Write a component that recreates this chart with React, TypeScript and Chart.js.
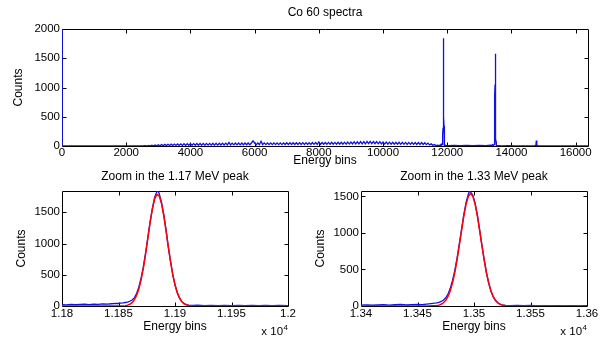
import React, { useEffect, useRef } from 'react';
import { Chart, registerables } from 'chart.js';

Chart.register(...registerables);

const FONT = '"Liberation Sans", Arial, Helvetica, sans-serif';
const BLUE = '#1010e8';
const RED = '#ff0000';

// ---------- full spectrum (blue) ----------
const startBins = [0, 8, 2500];
const startCounts = [2400, 0, 0];

const continuumBins = [
  2600, 2650, 2700, 2750, 2800, 2850, 2900, 2950,
  3000, 3050, 3100, 3150, 3200, 3250, 3300, 3350, 3400, 3450,
  3500, 3550, 3600, 3650, 3700, 3750, 3800, 3850, 3900, 3950,
  4000, 4050, 4100, 4150, 4200, 4250, 4300, 4350, 4400, 4450,
  4500, 4550, 4600, 4650, 4700, 4750, 4800, 4850, 4900, 4950,
  5000, 5050, 5100, 5150, 5200, 5250, 5300, 5350, 5400, 5450,
  5500, 5550, 5600, 5650, 5700, 5750, 5800, 5850, 5900, 5950,
  6000, 6050, 6100, 6150, 6200, 6250, 6300, 6350, 6400, 6450,
  6500, 6550, 6600, 6650, 6700, 6750, 6800, 6850, 6900, 6950,
  7000, 7050, 7100, 7150, 7200, 7250, 7300, 7350, 7400, 7450,
  7500, 7550, 7600, 7650, 7700, 7750, 7800, 7850, 7900, 7950,
  8000, 8050, 8100, 8150, 8200, 8250, 8300, 8350, 8400, 8450,
  8500, 8550, 8600, 8650, 8700, 8750, 8800, 8850, 8900, 8950,
  9000, 9050, 9100, 9150, 9200, 9250, 9300, 9350, 9400, 9450,
  9500, 9550, 9600, 9650, 9700, 9750, 9800, 9850, 9900, 9950,
  10000, 10050, 10100, 10150, 10200, 10250, 10300, 10350, 10400, 10450,
  10500, 10550, 10600, 10650, 10700, 10750, 10800, 10850, 10900, 10950,
  11000, 11050, 11100, 11150, 11200, 11250, 11300, 11350, 11400, 11450,
  11500, 11550, 11600, 11650, 11700, 11750,
];
const continuumCounts = [
  4, 0, 8, 2, 12, 3, 16, 4,
  20, 5, 24, 6, 27, 7, 30, 8, 32, 9,
  34, 10, 35, 10, 37, 11, 38, 11, 39, 12,
  40, 12, 41, 13, 42, 13, 43, 14, 44, 14,
  45, 15, 45, 15, 46, 16, 47, 16, 47, 17,
  48, 18, 49, 18, 60, 19, 49, 19, 50, 20,
  50, 20, 51, 21, 51, 21, 52, 22, 52, 88,
  52, 22, 52, 22, 80, 23, 53, 23, 53, 23,
  53, 24, 53, 24, 54, 24, 54, 24, 54, 25,
  55, 25, 55, 25, 56, 26, 56, 26, 57, 26,
  57, 27, 58, 27, 58, 27, 59, 28, 59, 28,
  70, 28, 60, 29, 60, 29, 61, 30, 62, 30,
  62, 31, 63, 31, 64, 32, 65, 32, 66, 33,
  68, 34, 70, 35, 72, 36, 74, 37, 76, 38,
  78, 40, 78, 40, 77, 39, 75, 38, 72, 36,
  68, 33, 66, 32, 65, 31, 64, 30, 63, 30,
  62, 29, 62, 29, 61, 28, 61, 28, 60, 28,
  60, 27, 59, 27, 58, 26, 56, 24, 50, 20,
  36, 12, 24, 8, 16, 6,
];

const peak1Bins = [
  11800, 11804, 11808, 11812, 11816, 11820, 11824, 11828, 11832, 11836, 11840, 11844, 11848, 11850,
  11852, 11854, 11856, 11858, 11860, 11862, 11864, 11866, 11868, 11870, 11872, 11874, 11876, 11878,
  11880, 11882, 11884, 11885, 11886, 11888, 11890, 11892, 11894, 11896, 11898, 11900, 11902, 11904,
  11906, 11908, 11910, 11912, 11916, 11920, 11926, 11932, 11938, 11944, 11950, 11956, 11962, 11968,
  11974, 11980, 11986, 11992, 12000,
];
const peak1Counts = [
  22, 18, 26, 20, 25, 29, 22, 30, 26, 33, 30, 36, 42, 40,
  46, 50, 56, 62, 76, 95, 130, 200, 300, 450, 630, 850, 1100, 1350,
  1560, 1740, 1830, 1840, 1800, 1660, 1470, 1230, 950, 720, 500, 340, 210, 125,
  70, 38, 22, 14, 9, 12, 6, 10, 5, 9, 6, 11, 5, 8,
  4, 9, 5, 8, 6,
];

const gapBins = [12050, 12200, 12400, 12600, 12800, 13000, 13200, 13350];
const gapCounts = [6, 10, 5, 9, 6, 10, 8, 14];

const peak2Bins = [
  13400, 13405, 13410, 13415, 13420, 13425, 13430, 13435, 13440, 13445, 13450, 13454, 13458, 13462,
  13465, 13467, 13469, 13471, 13473, 13475, 13477, 13479, 13481, 13483, 13485, 13487, 13489, 13491,
  13493, 13495, 13496, 13497, 13499, 13501, 13503, 13505, 13507, 13509, 13511, 13513, 13515, 13517,
  13519, 13521, 13523, 13525, 13528, 13532, 13538, 13544, 13550, 13556, 13562, 13568, 13574, 13580,
  13586, 13592, 13600,
];
const peak2Counts = [
  12, 16, 10, 14, 18, 12, 17, 21, 14, 19, 23, 20, 27, 33,
  38, 43, 50, 62, 82, 112, 162, 242, 350, 485, 655, 850, 1050, 1250,
  1420, 1530, 1575, 1560, 1515, 1405, 1245, 1040, 835, 635, 455, 312, 200, 125,
  75, 44, 25, 15, 9, 5, 8, 4, 7, 3, 6, 3, 5, 2,
  5, 3, 4,
];

const tailBins = [13700, 13900, 14100, 14400, 14700, 14760, 14775, 14790, 14850, 15200, 15600, 16000, 16384];
const tailCounts = [2, 4, 1, 3, 1, 10, 95, 12, 1, 2, 0, 1, 0];

// ---------- gaussian fits (red) ----------
const fit1Bins = [
  11800, 11850, 11856, 11858, 11860, 11862, 11864, 11866, 11868, 11870, 11872, 11874, 11876, 11878,
  11880, 11882, 11884, 11886, 11888, 11890, 11892, 11894, 11896, 11898, 11900, 11902, 11904, 11906,
  11908, 11910, 11912, 11914, 11920, 12000,
];
const fit1Counts = [
  0, 1, 6, 14, 28, 54, 98, 168, 273, 418, 607, 835, 1086, 1337,
  1556, 1714, 1787, 1763, 1645, 1452, 1213, 958, 717, 507, 339, 216, 129, 73,
  39, 20, 10, 4, 1, 0,
];

const fit2Bins = [
  13400, 13460, 13467, 13469, 13471, 13473, 13475, 13477, 13479, 13481, 13483, 13485, 13487, 13489,
  13491, 13493, 13495, 13497, 13499, 13501, 13503, 13505, 13507, 13509, 13511, 13513, 13515, 13517,
  13519, 13521, 13523, 13525, 13527, 13535, 13600,
];
const fit2Counts = [
  0, 1, 6, 12, 24, 44, 78, 130, 208, 317, 459, 633, 831, 1037,
  1233, 1395, 1502, 1540, 1502, 1395, 1233, 1037, 831, 633, 459, 317, 208, 130,
  78, 44, 24, 12, 6, 1, 0,
];

// ---------- axes ----------
const topXTicks = [0, 2000, 4000, 6000, 8000, 10000, 12000, 14000, 16000];
const topXLabels = ['0', '2000', '4000', '6000', '8000', '10000', '12000', '14000', '16000'];
const topYTicks = [0, 500, 1000, 1500, 2000];
const topYLabels = ['0', '500', '1000', '1500', '2000'];
const topXMax = 16384;
const topYMax = 2000;

const zoom1XTicks = [11800, 11850, 11900, 11950, 12000];
const zoom1XLabels = ['1.18', '1.185', '1.19', '1.195', '1.2'];
const zoom1YMax = 1840;
const zoom2XTicks = [13400, 13450, 13500, 13550, 13600];
const zoom2XLabels = ['1.34', '1.345', '1.35', '1.355', '1.36'];
const zoom2YMax = 1575;
const zoomYTicks = [0, 500, 1000, 1500];
const zoomYLabels = ['0', '500', '1000', '1500'];

const titles = ['Co 60 spectra', 'Zoom in the 1.17 MeV peak', 'Zoom in the 1.33 MeV peak'];

function pts(xs: number[], ys: number[]) {
  return xs.map((x, i) => ({ x, y: ys[i] }));
}

type Spec = {
  width: number;
  height: number;
  padTop: number;
  padRight: number;
  yAxisW: number;
  xAxisH: number;
  xTickPad: number;
  xTitlePadBottom: number;
  yTitlePad: number;
  xMin: number;
  xMax: number;
  yMax: number;
  xTicks: number[];
  xLabels: string[];
  yTicks: number[];
  yLabels: string[];
  title: string;
  titleY: number;
  exponent: boolean;
  exponentY: number;
  datasets: { data: { x: number; y: number }[]; color: string; width: number }[];
};

function makePlugin(s: Spec) {
  return {
    id: 'matlabFrame',
    beforeDatasetsDraw(chart: any) {
      const { ctx, chartArea, scales } = chart;
      const L = Math.round(chartArea.left) + 0.5;
      const R = Math.round(chartArea.right) + 0.5;
      const T = Math.round(chartArea.top) + 0.5;
      const B = Math.round(chartArea.bottom) + 0.5;
      ctx.save();
      ctx.strokeStyle = '#000';
      ctx.lineWidth = 1;
      ctx.beginPath();
      ctx.moveTo(L, T);
      ctx.lineTo(R, T);
      ctx.lineTo(R, B);
      ctx.lineTo(L, B);
      ctx.closePath();
      const tl = 4;
      scales.x.ticks.forEach((t: any) => {
        const px = Math.round(scales.x.getPixelForValue(t.value)) + 0.5;
        if (px <= L + 1 || px >= R - 1) return;
        ctx.moveTo(px, B);
        ctx.lineTo(px, B - tl);
        ctx.moveTo(px, T);
        ctx.lineTo(px, T + tl);
      });
      scales.y.ticks.forEach((t: any) => {
        const py = Math.round(scales.y.getPixelForValue(t.value)) + 0.5;
        if (py <= T + 1 || py >= B - 1) return;
        ctx.moveTo(L, py);
        ctx.lineTo(L + tl, py);
        ctx.moveTo(R, py);
        ctx.lineTo(R - tl, py);
      });
      ctx.stroke();
      ctx.restore();
    },
    afterDraw(chart: any) {
      const { ctx, chartArea } = chart;
      ctx.save();
      ctx.fillStyle = '#000';
      ctx.font = `12px ${FONT}`;
      ctx.textAlign = 'center';
      ctx.textBaseline = 'middle';
      ctx.fillText(s.title, (chartArea.left + chartArea.right) / 2, s.titleY);
      if (s.exponent) {
        ctx.textBaseline = 'alphabetic';
        ctx.textAlign = 'right';
        ctx.font = `8px ${FONT}`;
        const supW = ctx.measureText('4').width;
        ctx.fillText('4', chartArea.right, s.exponentY - 5);
        ctx.font = `11.5px ${FONT}`;
        ctx.fillText('x 10', chartArea.right - supW - 0.5, s.exponentY);
      }
      ctx.restore();
    },
  };
}

function buildConfig(s: Spec): any {
  const tickFont = { family: FONT, size: 11.5 };
  const titleFont = { family: FONT, size: 12 };
  return {
    type: 'line',
    data: {
      datasets: s.datasets.map((d) => ({
        data: d.data,
        borderColor: d.color,
        borderWidth: d.width,
        pointRadius: 0,
        tension: 0,
        fill: false,
      })),
    },
    options: {
      responsive: false,
      animation: false,
      events: [],
      layout: { padding: { left: 0, top: s.padTop, right: s.padRight, bottom: 0 } },
      plugins: { legend: { display: false }, tooltip: { enabled: false }, title: { display: false } },
      scales: {
        x: {
          type: 'linear',
          min: s.xMin,
          max: s.xMax,
          afterBuildTicks: (sc: any) => {
            sc.ticks = s.xTicks.map((v) => ({ value: v }));
          },
          afterFit: (sc: any) => {
            sc.height = s.xAxisH;
          },
          grid: { display: false, drawTicks: false },
          border: { display: false },
          ticks: {
            autoSkip: false,
            maxRotation: 0,
            padding: s.xTickPad,
            color: '#000',
            font: tickFont,
            callback: (v: number) => s.xLabels[s.xTicks.indexOf(v)] ?? '',
          },
          title: {
            display: true,
            text: 'Energy bins',
            color: '#000',
            font: titleFont,
            padding: { top: 0, bottom: s.xTitlePadBottom },
          },
        },
        y: {
          type: 'linear',
          min: 0,
          max: s.yMax,
          afterBuildTicks: (sc: any) => {
            sc.ticks = s.yTicks.map((v) => ({ value: v }));
          },
          afterFit: (sc: any) => {
            sc.width = s.yAxisW;
          },
          grid: { display: false, drawTicks: false },
          border: { display: false },
          ticks: {
            autoSkip: false,
            padding: 2,
            color: '#000',
            font: tickFont,
            callback: (v: number) => s.yLabels[s.yTicks.indexOf(v)] ?? '',
          },
          title: {
            display: true,
            text: 'Counts',
            color: '#000',
            font: titleFont,
            padding: { top: s.yTitlePad, bottom: 0 },
          },
        },
      },
    },
    plugins: [makePlugin(s)],
  };
}

const topData = pts(
  [...startBins, ...continuumBins, ...peak1Bins, ...gapBins, ...peak2Bins, ...tailBins],
  [...startCounts, ...continuumCounts, ...peak1Counts, ...gapCounts, ...peak2Counts, ...tailCounts]
);

const specs: { left: number; top: number; spec: Spec }[] = [
  {
    left: 0,
    top: 0,
    spec: {
      width: 607, height: 170, padTop: 29, padRight: 19, yAxisW: 62, xAxisH: 24, xTickPad: 0,
      xTitlePadBottom: 2, yTitlePad: 11, xMin: 0, xMax: topXMax, yMax: topYMax,
      xTicks: topXTicks, xLabels: topXLabels, yTicks: topYTicks, yLabels: topYLabels,
      title: titles[0], titleY: 13, exponent: false, exponentY: 0,
      datasets: [{ data: topData, color: BLUE, width: 1.3 }],
    },
  },
  {
    left: 0,
    top: 170,
    spec: {
      width: 303, height: 168, padTop: 21, padRight: 15, yAxisW: 62, xAxisH: 32, xTickPad: 1,
      xTitlePadBottom: 4, yTitlePad: 14.5, xMin: 11800, xMax: 12000, yMax: zoom1YMax,
      xTicks: zoom1XTicks, xLabels: zoom1XLabels, yTicks: zoomYTicks, yLabels: zoomYLabels,
      title: titles[1], titleY: 7, exponent: true, exponentY: 165,
      datasets: [
        { data: pts(fit1Bins, fit1Counts), color: RED, width: 1.5 },
        { data: pts(peak1Bins, peak1Counts), color: BLUE, width: 1.3 },
      ],
    },
  },
  {
    left: 303,
    top: 170,
    spec: {
      width: 304, height: 168, padTop: 21, padRight: 20, yAxisW: 58, xAxisH: 32, xTickPad: 1,
      xTitlePadBottom: 4, yTitlePad: 10.5, xMin: 13400, xMax: 13600, yMax: zoom2YMax,
      xTicks: zoom2XTicks, xLabels: zoom2XLabels, yTicks: zoomYTicks, yLabels: zoomYLabels,
      title: titles[2], titleY: 7, exponent: true, exponentY: 165,
      datasets: [
        { data: pts(fit2Bins, fit2Counts), color: RED, width: 1.5 },
        { data: pts(peak2Bins, peak2Counts), color: BLUE, width: 1.3 },
      ],
    },
  },
];

function Panel({ left, top, spec }: { left: number; top: number; spec: Spec }) {
  const ref = useRef<HTMLCanvasElement | null>(null);
  useEffect(() => {
    if (!ref.current) return;
    const chart = new Chart(ref.current, buildConfig(spec));
    return () => chart.destroy();
  }, [spec]);
  return (
    <canvas
      ref={ref}
      width={spec.width}
      height={spec.height}
      style={{ position: 'absolute', left, top, width: spec.width, height: spec.height }}
    />
  );
}

export default function App() {
  return (
    <div
      style={{
        position: 'fixed',
        left: 0,
        top: 0,
        width: 607,
        height: 338,
        background: '#fff',
        overflow: 'hidden',
      }}
    >
      {specs.map((p, i) => (
        <Panel key={i} left={p.left} top={p.top} spec={p.spec} />
      ))}
    </div>
  );
}
